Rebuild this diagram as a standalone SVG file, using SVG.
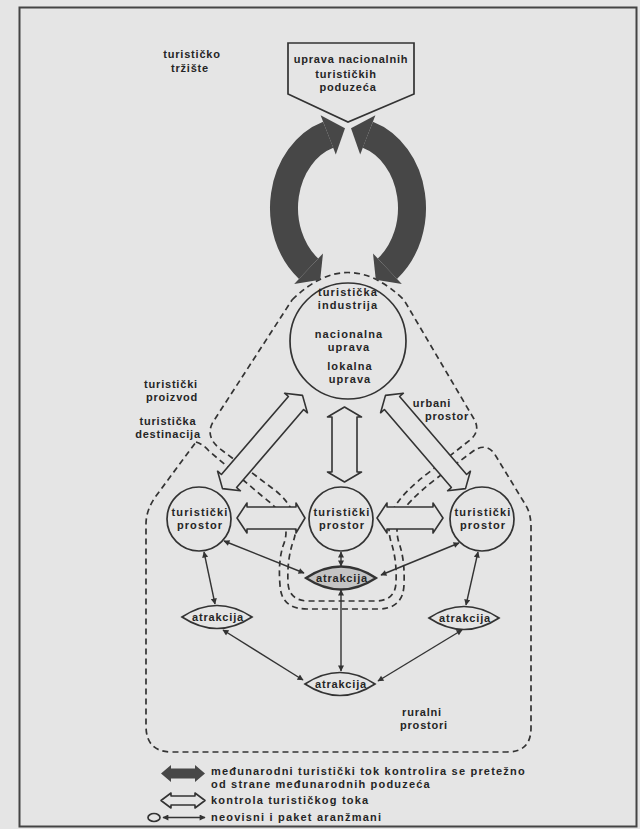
<svg xmlns="http://www.w3.org/2000/svg" width="640" height="829" viewBox="0 0 640 829">
<style>
.t{font-family:"Liberation Sans",Arial,sans-serif;font-weight:bold;font-size:11px;fill:#262626;text-anchor:middle;letter-spacing:0.8px}
.c{letter-spacing:1.1px}
.lg{text-anchor:start;letter-spacing:1.2px}
.dash{fill:none;stroke:#333;stroke-width:1.7;stroke-dasharray:6 4}
.shape{fill:#e5e5e5;stroke:#333;stroke-width:1.7}
.blk{fill:#e5e5e5;stroke:#333;stroke-width:1.6;stroke-linejoin:round}
.dark{fill:#474747}
.ring{fill:none;stroke:#474747;stroke-width:28}
.thin{fill:none;stroke:#333;stroke-width:1.4;marker-start:url(#ah);marker-end:url(#ah)}
</style>
<defs>
<marker id="ah" viewBox="0 0 10 10" refX="9" refY="5" markerWidth="8" markerHeight="6" markerUnits="userSpaceOnUse" orient="auto-start-reverse">
<path d="M0,0 L10,5 L0,10 Z" fill="#333"/>
</marker>
</defs>
<rect x="0" y="0" width="640" height="829" fill="#e5e5e5"/>
<rect x="19.5" y="7.5" width="617" height="819" fill="none" stroke="#444" stroke-width="2"/>

<g id="regions">
<path class="dash" d="M292,300 Q348,245 404,300 L474,419 Q481,431 470,440 L432,470 Q400,494 392,512 Q386,528 392,545 Q397,562 396,583 Q395,601 375,601 L309,601 Q289,601 288,583 Q287,562 292,545 Q299,528 293,512 Q285,497 272,488 L219,448 Q205,436 213,422 Z"/>
<path class="dash" d="M196,442 Q203,444 209,451 L262,496 Q278,508 283,518 Q289,532 283,546 Q278,562 280,585 Q281,609 307,609 L378,609 Q403,609 404,585 Q405,562 400,546 Q394,530 400,516 Q406,502 437,478 L472,452 Q485,442 494,453 L525,504 Q531,513 531,527 L531,728 Q531,752 507,752 L172,752 Q146,752 146,726 L146,524 Q146,510 156,496 Z"/>
<text class="t" x="422" y="716">ruralni</text>
<text class="t" x="424" y="728.5">prostori</text>
<text class="t" x="171" y="388">turistički</text>
<text class="t" x="172" y="400.5">proizvod</text>
<text class="t" x="168" y="425">turistička</text>
<text class="t" x="168" y="437.5">destinacija</text>
<text class="t" x="432" y="407">urbani</text>
<text class="t" x="447" y="419.5">prostor</text>
</g>

<g id="trziste">
<text class="t" x="192" y="58">turističko</text>
<text class="t" x="190" y="72">tržište</text>
</g>

<g id="uprava-poduzeca">
<polygon class="shape" points="288,43 414,43 414,94 348,122 288,94"/>
<text class="t" x="351" y="63">uprava nacionalnih</text>
<text class="t" x="346" y="77.5">turističkih</text>
<text class="t" x="348" y="91">poduzeća</text>
</g>

<g id="industrija">
<circle class="shape" cx="348" cy="341" r="58"/>
<text class="t c" x="348" y="296">turistička</text>
<text class="t c" x="348" y="308.5">industrija</text>
<text class="t c" x="349" y="338">nacionalna</text>
<text class="t c" x="349" y="350.5">uprava</text>
<text class="t c" x="350" y="370">lokalna</text>
<text class="t c" x="350" y="382.5">uprava</text>
</g>

<g id="prostor-lijevo">
<circle class="shape" cx="199" cy="519" r="32"/>
<text class="t c" x="200" y="516">turistički</text>
<text class="t c" x="200" y="528.5">prostor</text>
</g>
<g id="prostor-sredina">
<circle class="shape" cx="341" cy="519" r="32"/>
<text class="t c" x="342" y="516">turistički</text>
<text class="t c" x="342" y="528.5">prostor</text>
</g>
<g id="prostor-desno">
<circle class="shape" cx="482" cy="519" r="32"/>
<text class="t c" x="483" y="516">turistički</text>
<text class="t c" x="483" y="528.5">prostor</text>
</g>

<g id="atrakcija-sredina">
<path class="shape" d="M306,578 Q341,555 376,578 Q341,601 306,578 Z" style="fill:#c4c4c4;stroke-width:2.3"/>
<text class="t" x="342" y="582">atrakcija</text>
</g>
<g id="atrakcija-lijevo">
<path class="shape" d="M182,617 Q217,594 252,617 Q217,640 182,617 Z"/>
<text class="t" x="218" y="621">atrakcija</text>
</g>
<g id="atrakcija-desno">
<path class="shape" d="M429,618 Q464,595 499,618 Q464,641 429,618 Z"/>
<text class="t" x="465" y="622">atrakcija</text>
</g>
<g id="atrakcija-dolje">
<path class="shape" d="M305,684 Q340,661 375,684 Q340,707 305,684 Z"/>
<text class="t" x="341" y="688">atrakcija</text>
</g>

<g id="connectors">
<polygon class="blk" points="237,518 247,503 247,507 296,507 296,503 305,518 296,533 296,529 247,529 247,533"/>
<polygon class="blk" points="377,518 387,503 387,507 433,507 433,503 443,518 433,533 433,529 387,529 387,533"/>
<polygon class="blk" points="344.5,407 361.5,417 357,417 357,472 361.5,472 344.5,482 327.5,472 332,472 332,417 327.5,417"/>
<polygon class="blk" points="302.5,395.4 307.4,412.8 303.6,409.5 236.6,487.5 240.4,490.8 222.5,488.6 217.6,471.2 221.4,474.5 288.4,396.5 284.6,393.2"/>
<polygon class="blk" points="385.5,395.4 380.6,412.8 384.4,409.5 451.4,487.5 447.6,490.8 465.5,488.6 470.4,471.2 466.6,474.5 399.6,396.5 403.4,393.2"/>
<path class="ring" d="M328.2,134.8 A64 77 0 0 0 308.6,268.7"/>
<polygon class="dark" points="335.8,154.4 345,128.2 320.6,115.3"/>
<polygon class="dark" points="294.2,284 320.2,279.7 323,253.4"/>
<path class="ring" d="M367.8,134.8 A64 77 0 0 1 387.4,268.7"/>
<polygon class="dark" points="360.2,154.4 351,128.2 375.4,115.3"/>
<polygon class="dark" points="401.8,284 375.8,279.7 373,253.4"/>
<line class="thin" x1="224" y1="541" x2="304" y2="573"/>
<line class="thin" x1="341" y1="552" x2="341" y2="566"/>
<line class="thin" x1="459" y1="543" x2="381" y2="575"/>
<line class="thin" x1="204" y1="552" x2="215" y2="604"/>
<line class="thin" x1="478" y1="552" x2="466" y2="605"/>
<line class="thin" x1="341" y1="590" x2="341" y2="671"/>
<line class="thin" x1="223" y1="630" x2="303" y2="680"/>
<line class="thin" x1="462" y1="630" x2="378" y2="681"/>
</g>

<g id="legenda">
<polygon class="dark" points="161,773.5 171,765 171,768.5 195,768.5 195,765 205,773.5 195,782 195,778.5 171,778.5 171,782"/>
<polygon class="blk" points="161,800.5 171,793 171,796 195,796 195,793 205,800.5 195,808 195,805 171,805 171,808"/>
<ellipse class="shape" cx="154" cy="817.5" rx="6" ry="4"/>
<line class="thin" x1="163" y1="817.5" x2="205" y2="817.5"/>
<text class="t lg" x="211" y="775">međunarodni turistički tok kontrolira se pretežno</text>
<text class="t lg" x="211" y="787.5">od strane međunarodnih poduzeća</text>
<text class="t lg" x="211" y="804">kontrola turističkog toka</text>
<text class="t lg" x="211" y="821">neovisni i paket aranžmani</text>
</g>
</svg>
